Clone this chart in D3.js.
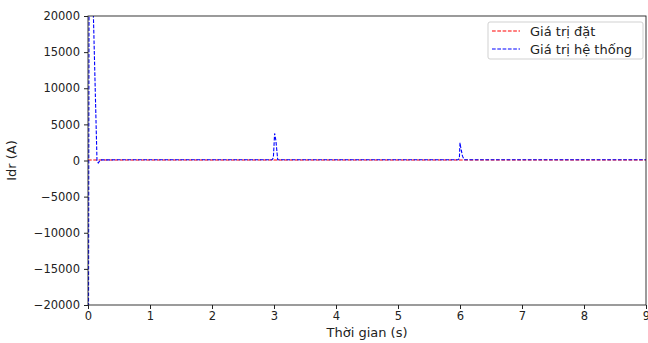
<!DOCTYPE html>
<html>
<head>
<meta charset="utf-8">
<script src="https://cdn.jsdelivr.net/npm/d3@7"></script>
<style>
  body { margin: 0; background: #fff; }
  text { font-family: "DejaVu Sans", sans-serif; fill: #222; }
</style>
</head>
<body>
<div id="chart"></div>
<script>
//
// Data
//
const xTicks = [0, 1, 2, 3, 4, 5, 6, 7, 8, 9]
const yTicks = [-20000, -15000, -10000, -5000, 0, 5000, 10000, 15000, 20000]

// set point (Giá trị đặt)
const refTime = [0, 9]
const refValue = [60, 60]

// measured value (Giá trị hệ thống)
const sysTime = [0, 0.005, 0.02, 0.07, 0.145, 0.165, 0.2, 0.5, 1, 2, 2.97, 2.99, 3.01, 3.03, 3.06, 4, 5, 5.97, 5.99, 6.0, 6.01, 6.04, 6.07, 7, 8, 9]
const sysValue = [-40000, -40000, 40000, 26000, 0, -350, 80, 100, 100, 100, 100, 400, 3750, 2800, 100, 100, 100, 100, 300, 2450, 1900, 600, 100, 100, 100, 100]

const seriesNames = ['Giá trị đặt', 'Giá trị hệ thống']
const seriesColours = ['#ff0000', '#0000ff']

const width = 648
const height = 343
const margin = { left: 88, right: 2, top: 16, bottom: 38 }

const svg = d3.select('#chart').append('svg')
  .attr('width', width)
  .attr('height', height)

const x = d3.scaleLinear().domain([0, 9]).range([margin.left, width - margin.right])
const y = d3.scaleLinear().domain([-20000, 20000]).range([height - margin.bottom, margin.top])

svg.append('clipPath').attr('id', 'plotClip')
  .append('rect')
  .attr('x', margin.left).attr('y', margin.top)
  .attr('width', x(9) - x(0)).attr('height', y(-20000) - y(20000))

const line = d3.line().x(d => x(d[0])).y(d => y(d[1]))

const series = [
  d3.zip(refTime, refValue),
  d3.zip(sysTime, sysValue)
]

const plot = svg.append('g').attr('clip-path', 'url(#plotClip)')
series.forEach((pts, i) => {
  plot.append('path')
    .datum(pts)
    .attr('d', line)
    .attr('fill', 'none')
    .attr('stroke', seriesColours[i])
    .attr('stroke-width', 1.1)
    .attr('stroke-dasharray', '3.7,1.6')
})

// frame
svg.append('rect')
  .attr('x', x(0)).attr('y', y(20000))
  .attr('width', x(9) - x(0)).attr('height', y(-20000) - y(20000))
  .attr('fill', 'none').attr('stroke', '#222').attr('stroke-width', 0.9)

const xAxis = svg.append('g')
  .attr('transform', 'translate(0,' + y(-20000) + ')')
  .call(d3.axisBottom(x).tickValues(xTicks).tickFormat(d3.format('d')).tickSize(4).tickPadding(3))
const yAxis = svg.append('g')
  .attr('transform', 'translate(' + x(0) + ',0)')
  .call(d3.axisLeft(y).tickValues(yTicks).tickFormat(d => d < 0 ? '\u2212' + Math.abs(d) : String(d)).tickSize(4).tickPadding(4))

;[xAxis, yAxis].forEach(a => {
  a.select('.domain').remove()
  a.selectAll('line').attr('stroke', '#222')
  a.selectAll('text').attr('font-size', '11.5px').attr('font-family', '"DejaVu Sans", sans-serif').attr('fill', '#222')
})

svg.append('text')
  .attr('x', 367)
  .attr('y', 337)
  .attr('text-anchor', 'middle')
  .attr('font-size', '13px')
  .text('Thời gian (s)')

svg.append('text')
  .attr('transform', 'translate(16,' + y(0) + ') rotate(-90)')
  .attr('text-anchor', 'middle')
  .attr('font-size', '13px')
  .text('Idr (A)')

// legend
const legend = svg.append('g').attr('transform', 'translate(488,22)')
legend.append('rect')
  .attr('width', 155).attr('height', 37).attr('rx', 2)
  .attr('fill', '#fff').attr('stroke', '#ccc').attr('stroke-width', 0.9)
seriesNames.forEach((name, i) => {
  const ly = 9 + i * 18
  legend.append('line')
    .attr('x1', 4).attr('x2', 32).attr('y1', ly).attr('y2', ly)
    .attr('stroke', seriesColours[i]).attr('stroke-width', 1.1)
    .attr('stroke-dasharray', '3.7,1.6')
  legend.append('text')
    .attr('x', 42).attr('y', ly + 4.5)
    .attr('font-size', '13px')
    .text(name)
})
</script>
</body>
</html>
